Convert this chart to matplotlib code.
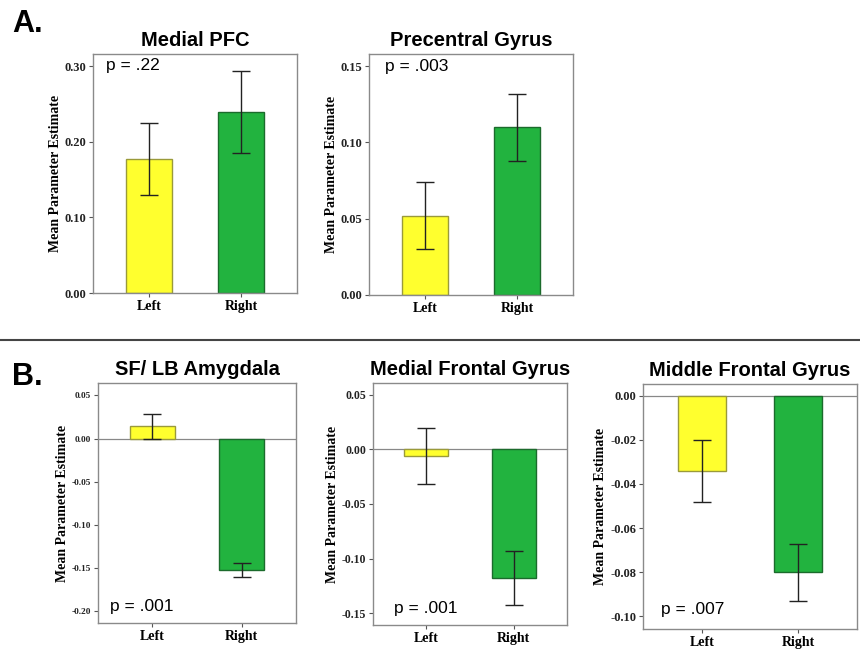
import numpy as np
import matplotlib.pyplot as plt

# dane
regions = ['Medial PFC', 'Precentral Gyrus', 'SF/ LB Amygdala',
           'Medial Frontal Gyrus', 'Middle Frontal Gyrus']
sides = ['Left', 'Right']
left_mean = [0.177, 0.052, 0.014, -0.006, -0.034]
right_mean = [0.239, 0.110, -0.152, -0.118, -0.080]
left_err = [0.048, 0.022, 0.015, 0.026, 0.014]
right_err = [0.054, 0.022, 0.008, 0.025, 0.013]
p_text = ['p = .22', 'p = .003', 'p = .001', 'p = .001', 'p = .007']
yticks = [[0.00, 0.10, 0.20, 0.30],
          [0.00, 0.05, 0.10, 0.15],
          [0.05, 0.00, -0.05, -0.10, -0.15, -0.20],
          [0.05, 0.00, -0.05, -0.10, -0.15],
          [0.00, -0.02, -0.04, -0.06, -0.08, -0.10]]
ylims = [(0, 0.316), (0, 0.158), (-0.2134, 0.0643), (-0.161, 0.061), (-0.1057, 0.0053)]

# polozenie osi w pikselach (lewo, gora, prawo, dol)
W, H = 860, 652
boxes = [(93, 54, 297, 293), (369, 54, 573, 295), (98, 383, 296, 623),
         (373, 383, 567, 625), (643, 384, 857, 629)]
p_pos = [(0.064, 0.95), (0.078, 0.95), (0.06, 0.068), (0.11, 0.067), (0.084, 0.08)]
ytick_size = [9, 9, 6.7, 8.5, 9]

serif = 'Liberation Serif'
sans = 'Liberation Sans'
frame = '#8a8a8a'
bar_colors = ['#ffff2e', '#22b33f']
edge_colors = ['#9a9a3a', '#1b6b2c']

fig = plt.figure(figsize=(W / 100, H / 100), dpi=100)

for i in range(5):
    l, t, r, b = boxes[i]
    ax = fig.add_axes([l / W, 1 - b / H, (r - l) / W, (b - t) / H])
    x = np.arange(2)
    means = [left_mean[i], right_mean[i]]
    errs = [left_err[i], right_err[i]]
    ax.bar(x, means, width=0.5, color=bar_colors, edgecolor=edge_colors, lw=1, zorder=2)
    ax.errorbar(x, means, yerr=errs, fmt='none', ecolor='#222222', elinewidth=1,
                capsize=6.5, capthick=1, zorder=3)
    if ylims[i][0] < 0:
        ax.axhline(0, color='#888888', lw=0.9, zorder=1)
    ax.set_xlim(-0.61, 1.61)
    ax.set_ylim(ylims[i])
    ax.set_yticks(yticks[i])
    ax.set_yticklabels(['%.2f' % v for v in yticks[i]], fontfamily=serif,
                       fontweight='bold', fontsize=ytick_size[i], color='#222222')
    ax.set_xticks(x)
    ax.set_xticklabels(sides, fontfamily=serif, fontweight='bold', fontsize=10)
    ax.tick_params(axis='both', length=3, width=0.8, color='#555555', pad=2)
    for s in ax.spines.values():
        s.set_color(frame)
        s.set_linewidth(1.0)
    ax.set_ylabel('Mean Parameter Estimate', fontfamily=serif, fontweight='bold',
                  fontsize=10, labelpad=2)
    ax.set_title(regions[i], fontfamily=sans, fontweight='bold', fontsize=14.5, pad=6)
    ax.text(p_pos[i][0], p_pos[i][1], p_text[i], transform=ax.transAxes,
            fontfamily=sans, fontsize=12.5, va='center', ha='left')

# litery paneli i linia oddzielajaca
fig.text(12 / W, 1 - 24 / H, 'A.', fontfamily=sans, fontweight='bold', fontsize=22, va='center')
fig.text(12 / W, 1 - 377 / H, 'B.', fontfamily=sans, fontweight='bold', fontsize=22, va='center')
fig.add_artist(plt.Line2D([0, 1], [1 - 340 / H, 1 - 340 / H], color='#444444', lw=1.5))

plt.savefig('out.png', dpi=100)
